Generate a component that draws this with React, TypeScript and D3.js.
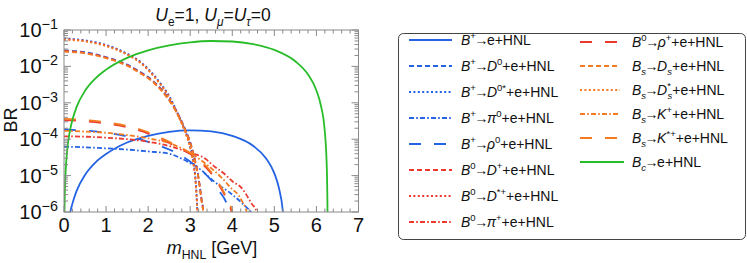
import React from "react";
import * as d3 from "d3";

// axis ticks
const xTicks = [0, 1, 2, 3, 4, 5, 6, 7];
const yExponents = [-1, -2, -3, -4, -5, -6];

// B+ -> e + HNL
const mBpE = [0.12, 0.15, 0.2, 0.3, 0.5, 0.75, 1.0, 1.5, 2.0, 2.5, 3.0, 3.5, 4.0, 4.5, 4.8, 5.0, 5.1, 5.2, 5.22];
const brBpE = [6e-7, 1e-6, 1.7e-6, 3.8e-6, 1.04e-5, 2.3e-5, 3.9e-5, 8.1e-5, 1.24e-4, 1.6e-4, 1.75e-4, 1.63e-4, 1.23e-4, 6.5e-5, 3e-5, 1.15e-5, 5e-6, 1.1e-6, 6e-7];

// B -> D* e HNL (dotted group)
const mDstar = [0, 0.5, 1.0, 1.5, 1.85, 2.0, 2.28, 2.5, 2.7, 2.85, 3.0, 3.07, 3.12, 3.15, 3.17, 3.18];
const brBpD0star = [5.9e-2, 5.2e-2, 3.9e-2, 2.25e-2, 1.25e-2, 8.6e-3, 3.6e-3, 1.55e-3, 5.2e-4, 2.1e-4, 6.3e-5, 2.6e-5, 9.5e-6, 3.2e-6, 1e-6, 5e-7];
const brB0Dstar = [5.6e-2, 5.0e-2, 3.75e-2, 2.15e-2, 1.2e-2, 8.2e-3, 3.4e-3, 1.45e-3, 4.9e-4, 2.0e-4, 6e-5, 2.45e-5, 9e-6, 3e-6, 9.5e-7, 5e-7];
const brBsDsstar = [5.4e-2, 4.85e-2, 3.6e-2, 2.1e-2, 1.15e-2, 7.9e-3, 3.3e-3, 1.4e-3, 4.7e-4, 1.9e-4, 5.7e-5, 2.3e-5, 8.4e-6, 2.8e-6, 9e-7, 5e-7];

// B -> D e HNL (dashed group)
const mD = [0, 0.5, 1.0, 1.5, 1.85, 2.0, 2.28, 2.5, 2.7, 2.9, 3.0, 3.1, 3.2, 3.27, 3.31, 3.32];
const brBpD0 = [2.75e-2, 2.45e-2, 1.8e-2, 1.12e-2, 6.6e-3, 5.1e-3, 2.6e-3, 1.25e-3, 5.2e-4, 1.65e-4, 8.3e-5, 3.1e-5, 8.5e-6, 2.2e-6, 1e-6, 6e-7];
const brB0Dp = [2.65e-2, 2.36e-2, 1.74e-2, 1.08e-2, 6.35e-3, 4.9e-3, 2.5e-3, 1.2e-3, 5e-4, 1.6e-4, 8e-5, 3e-5, 8.2e-6, 2.1e-6, 9.5e-7, 6e-7];
const brBsDs = [2.55e-2, 2.28e-2, 1.68e-2, 1.04e-2, 6.1e-3, 4.75e-3, 2.4e-3, 1.16e-3, 4.8e-4, 1.53e-4, 7.7e-5, 2.9e-5, 7.9e-6, 2e-6, 9e-7, 6e-7];

// light vector mesons (long dashed)
const mRho0 = [0, 0.5, 1.0, 1.5, 2.0, 2.5, 2.75, 3.0, 3.25, 3.5, 3.7, 3.85, 3.93, 3.96];
const brBpRho0 = [1.85e-4, 1.72e-4, 1.5e-4, 1.2e-4, 8.5e-5, 5.2e-5, 3.8e-5, 2.4e-5, 1.45e-5, 7.5e-6, 3.6e-6, 1.9e-6, 1e-6, 6e-7];
const mRhop = [0, 0.5, 1.0, 1.5, 2.0, 2.25, 2.5, 2.75, 3.0, 3.25, 3.5, 3.65, 3.82, 3.92, 3.98, 4.0];
const brB0Rhop = [3.35e-4, 3.1e-4, 2.7e-4, 2.12e-4, 1.43e-4, 1.06e-4, 7.9e-5, 5.6e-5, 3.9e-5, 2.3e-5, 1.15e-5, 6.4e-6, 2.9e-6, 1.6e-6, 1e-6, 6e-7];
const mKstar = [0, 0.5, 1.0, 1.5, 2.0, 2.25, 2.5, 2.75, 3.0, 3.25, 3.5, 3.65, 3.82, 3.92, 4.0, 4.02];
const brBsKstar = [3.6e-4, 3.35e-4, 2.9e-4, 2.3e-4, 1.55e-4, 1.15e-4, 8.5e-5, 6e-5, 4.2e-5, 2.5e-5, 1.25e-5, 7e-6, 3.2e-6, 1.8e-6, 1e-6, 6e-7];

// light pseudoscalars (dot-dashed)
const mPi0 = [0, 0.5, 1.0, 1.5, 2.0, 2.5, 2.75, 3.0, 3.25, 3.5, 3.75, 3.9, 4.0, 4.22, 4.35, 4.44, 4.46];
const brBpPi0 = [6.2e-5, 6.0e-5, 5.6e-5, 5.2e-5, 4.6e-5, 4.0e-5, 3.1e-5, 2.2e-5, 1.45e-5, 8e-6, 4.8e-6, 3.7e-6, 3e-6, 1.8e-6, 1.3e-6, 1e-6, 7e-7];
const mPip = [0, 0.5, 1.0, 1.5, 2.0, 2.5, 3.0, 3.39, 3.5, 3.83, 4.0, 4.22, 4.46, 4.58, 4.6];
const brB0Pip = [1.2e-4, 1.17e-4, 1.1e-4, 1.0e-4, 8.5e-5, 6.5e-5, 4.2e-5, 2.75e-5, 2.1e-5, 1.07e-5, 7e-6, 4.6e-6, 1.7e-6, 1e-6, 7e-7];
const mK = [0, 0.5, 1.0, 1.5, 2.0, 2.5, 3.0, 3.35, 3.5, 3.75, 4.0, 4.14, 4.25, 4.34, 4.36];
const brBsK = [1.7e-4, 1.62e-4, 1.5e-4, 1.3e-4, 1.05e-4, 7.8e-5, 4.2e-5, 2.2e-5, 1.6e-5, 8.7e-6, 4.2e-6, 3e-6, 1.8e-6, 1e-6, 7e-7];

// Bc -> e + HNL
const mBcE = [0.01, 0.012, 0.02, 0.04, 0.07, 0.1, 0.15, 0.2, 0.3, 0.5, 0.75, 1.0, 1.5, 2.0, 2.5, 3.0, 3.5, 4.0, 4.5, 5.0, 5.5, 5.8, 6.0, 6.1, 6.2, 6.25, 6.26, 6.266];
const brBcE = [8.6e-7, 1.2e-6, 3.4e-6, 1.37e-5, 4.2e-5, 8.6e-5, 1.93e-4, 3.4e-4, 7.7e-4, 2.13e-3, 4.7e-3, 8.15e-3, 1.72e-2, 2.77e-2, 3.79e-2, 4.59e-2, 4.98e-2, 4.83e-2, 4.08e-2, 2.84e-2, 1.38e-2, 6e-3, 2.18e-3, 9e-4, 1.58e-4, 1.2e-5, 2.6e-6, 5e-7];

const BLUE = "#2463e4";
const RED = "#ea3a30";
const ORANGE = "#f47b22";
const GREEN = "#28bd28";

const DASH = "5,3";
const DOT = "2,2.4";
const DOTDASH = "5,2.2,1.6,2.2";
const LONG = "12,13";

type Part = { t: string; it?: boolean; k?: "sup" | "sub"; dx?: number };
const N = (t: string, dx?: number): Part => ({ t, dx });
const I = (t: string): Part => ({ t, it: true });
const SUP = (t: string, dx?: number): Part => ({ t, k: "sup", dx });
const SUB = (t: string, it = true, dx?: number): Part => ({ t, k: "sub", it, dx });
const ARROW = N("→", -1.5);

const tail = N("+e+HNL", -1.5);
const tailE = N("e+HNL", -1.5);
const series = [
  { label: [I("B"), SUP("+"), ARROW, tailE], color: BLUE, dash: "", m: mBpE, br: brBpE },
  { label: [I("B"), SUP("+"), ARROW, { ...I("D"), dx: -1.5 }, SUP("0"), N("+e+HNL")], color: BLUE, dash: DASH, m: mD, br: brBpD0 },
  { label: [I("B"), SUP("+"), ARROW, { ...I("D"), dx: -1.5 }, SUP("0*"), N("+e+HNL")], color: BLUE, dash: DOT, m: mDstar, br: brBpD0star },
  { label: [I("B"), SUP("+"), ARROW, { ...I("π"), dx: -1.5 }, SUP("0"), N("+e+HNL")], color: BLUE, dash: DOTDASH, m: mPi0, br: brBpPi0 },
  { label: [I("B"), SUP("+"), ARROW, { ...I("ρ"), dx: -1.5 }, SUP("0"), N("+e+HNL")], color: BLUE, dash: LONG, m: mRho0, br: brBpRho0 },
  { label: [I("B"), SUP("0"), ARROW, { ...I("D"), dx: -1.5 }, SUP("+"), N("+e+HNL")], color: RED, dash: DASH, m: mD, br: brB0Dp },
  { label: [I("B"), SUP("0"), ARROW, { ...I("D"), dx: -1.5 }, SUP("*+"), N("+e+HNL")], color: RED, dash: DOT, m: mDstar, br: brB0Dstar },
  { label: [I("B"), SUP("0"), ARROW, { ...I("π"), dx: -1.5 }, SUP("+"), N("+e+HNL")], color: RED, dash: DOTDASH, m: mPip, br: brB0Pip },
  { label: [I("B"), SUP("0"), ARROW, { ...I("ρ"), dx: -1.5 }, SUP("+"), N("+e+HNL")], color: RED, dash: LONG, m: mRhop, br: brB0Rhop },
  { label: [I("B"), SUB("s"), ARROW, { ...I("D"), dx: -1.5 }, SUB("s"), N("+e+HNL")], color: ORANGE, dash: DASH, m: mD, br: brBsDs },
  { label: [I("B"), SUB("s"), ARROW, { ...I("D"), dx: -1.5 }, SUP("*"), SUB("s", true, -3.5), N("+e+HNL")], color: ORANGE, dash: DOT, m: mDstar, br: brBsDsstar },
  { label: [I("B"), SUB("s"), ARROW, { ...I("K"), dx: -1.5 }, SUP("+"), N("+e+HNL")], color: ORANGE, dash: DOTDASH, m: mK, br: brBsK },
  { label: [I("B"), SUB("s"), ARROW, { ...I("K"), dx: -1.5 }, SUP("*+"), N("+e+HNL")], color: ORANGE, dash: LONG, m: mKstar, br: brBsKstar },
  { label: [I("B"), SUB("c"), ARROW, tailE], color: GREEN, dash: "", m: mBcE, br: brBcE },
];
void tail;

const FONT = "'Liberation Sans', Arial, Helvetica, sans-serif";

function Rich({ x, y, parts, size, anchor, transform, supScale = 0.68 }: { x: number; y: number; parts: Part[]; size: number; anchor?: string; transform?: string; supScale?: number }) {
  let cur = 0;
  return (
    <text x={x} y={y} fontSize={size} textAnchor={anchor} transform={transform} fill="#111">
      {parts.map((p, i) => {
        const target = p.k === "sup" ? -size * 0.4 : p.k === "sub" ? size * 0.28 : 0;
        const dy = target - cur;
        cur = target;
        const fs = p.k ? size * supScale : size;
        return (
          <tspan key={i} dy={dy || undefined} dx={p.dx} fontSize={fs} fontStyle={p.it ? "italic" : undefined}>
            {p.t}
          </tspan>
        );
      })}
    </text>
  );
}

export default function App() {
  const left = 64, right = 358.5, top = 30, bottom = 212;
  const x = d3.scaleLinear().domain([0, 7]).range([left, right]);
  const y = d3.scaleLog().domain([1e-6, 1e-1]).range([bottom, top]);

  const line = d3
    .line<[number, number]>()
    .x((d) => x(d[0]))
    .y((d) => y(d[1]))
    .curve(d3.curveMonotoneX);

  const xMinor = d3.range(0, 7.001, 0.2);
  const yMinor: number[] = [];
  for (let e = -6; e < -1; e++) for (let k = 2; k <= 9; k++) yMinor.push(k * Math.pow(10, e));

  const frame = "#8a8a8a";
  const legTop = 33.5;

  return (
    <svg width={747} height={263} style={{ position: "absolute", left: 0, top: 0, fontFamily: FONT }}>
      <defs>
        <clipPath id="plotClip">
          <rect x={left} y={top} width={right - left} height={bottom - top} />
        </clipPath>
      </defs>
      <rect x={0} y={0} width={747} height={263} fill="#fff" />

      <g clipPath="url(#plotClip)" fill="none">
        {series.map((s, i) => (
          <path
            key={i}
            d={line(s.m.map((m, j) => [m, s.br[j]] as [number, number])) || ""}
            stroke={s.color}
            strokeWidth={1.8}
            strokeDasharray={s.dash || undefined}
          />
        ))}
      </g>

      {/* frame and ticks */}
      <rect x={left} y={top} width={right - left} height={bottom - top} fill="none" stroke={frame} strokeWidth={1} />
      <g stroke={frame} strokeWidth={1}>
        {xMinor.map((v, i) => {
          const major = Math.abs(v - Math.round(v)) < 1e-6;
          const len = major ? 6 : 3.5;
          return (
            <g key={i}>
              <line x1={x(v)} x2={x(v)} y1={bottom} y2={bottom - len} />
              <line x1={x(v)} x2={x(v)} y1={top} y2={top + len} />
            </g>
          );
        })}
        {yExponents.map((e) => (
          <g key={e}>
            <line x1={left} x2={left + 7} y1={y(Math.pow(10, e))} y2={y(Math.pow(10, e))} />
            <line x1={right} x2={right - 7} y1={y(Math.pow(10, e))} y2={y(Math.pow(10, e))} />
          </g>
        ))}
        {yMinor.map((v, i) => (
          <g key={i}>
            <line x1={left} x2={left + 4} y1={y(v)} y2={y(v)} />
            <line x1={right} x2={right - 4} y1={y(v)} y2={y(v)} />
          </g>
        ))}
      </g>

      {xTicks.map((t) => (
        <text key={t} x={x(t)} y={232} fontSize={20} textAnchor="middle" fill="#111">
          {t}
        </text>
      ))}
      {yExponents.map((e) => (
        <Rich key={e} x={58} y={y(Math.pow(10, e)) + 7} size={20} supScale={0.72} anchor="end" parts={[N("10"), SUP("−" + Math.abs(e))]} />
      ))}

      <Rich x={213} y={21} size={17.5} anchor="middle" parts={[I("U"), SUB("e", false), N("=1, "), I("U"), SUB("μ"), N("="), I("U"), SUB("τ"), N("=0")]} />
      <Rich x={212} y={254} size={18} anchor="middle" parts={[I("m"), SUB("HNL", false), N(" [GeV]")]} />
      <text x={0} y={0} fontSize={18} textAnchor="middle" transform="translate(17,120) rotate(-90)" fill="#111">
        BR
      </text>

      {/* legend */}
      <rect x={398.5} y={legTop} width={347} height={206} rx={5} fill="#fff" stroke="#444" strokeWidth={1} />
      {series.map((s, i) => {
        const col = i < 8 ? 0 : 1;
        const row = col === 0 ? i : i - 8;
        const cy = col === 0 ? 40 + row * 26 : 42 + row * 24;
        const x1 = col === 0 ? 409 : 580;
        const x2 = col === 0 ? 452 : s.dash ? 620 : 624;
        const tx = col === 0 ? 461 : 632;
        return (
          <g key={i}>
            <line x1={x1} x2={x2} y1={cy} y2={cy} stroke={s.color} strokeWidth={1.8} strokeDasharray={s.dash || undefined} />
            <Rich x={tx} y={cy + 5} size={14} parts={s.label} />
          </g>
        );
      })}
    </svg>
  );
}
